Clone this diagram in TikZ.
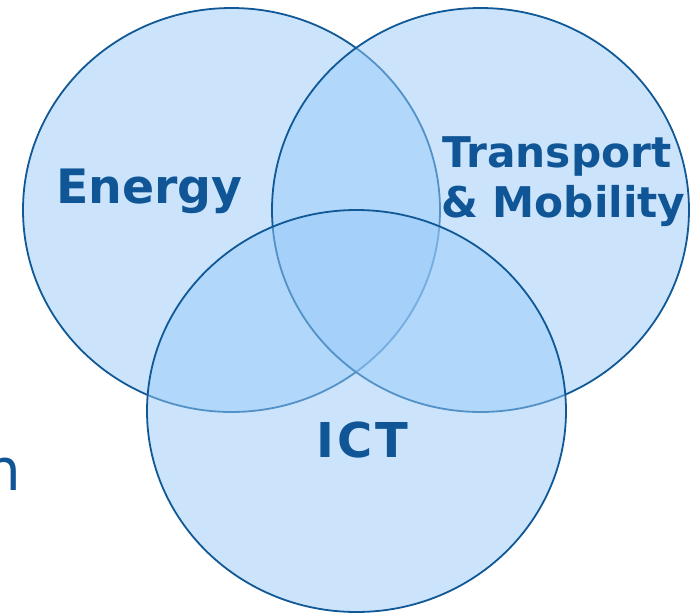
\documentclass[tikz,border=0pt]{standalone}
\usepackage{fontspec}
\setmainfont{DejaVu Sans}
\definecolor{vblue}{RGB}{151,202,249}
\definecolor{vline}{RGB}{16,88,150}
\definecolor{vtext}{RGB}{16,86,150}
\begin{document}
\begin{tikzpicture}[x=1pt,y=-1pt,
  setcircle/.style={draw=vline,line width=1.8pt,fill=vblue,fill opacity=0.5,draw opacity=1},
  lbl/.style={inner sep=0pt,text=vtext,anchor=base west}]
\useasboundingbox (0,0) rectangle (694,613);
\clip (0,0) rectangle (694,613);
\node[inner sep=0pt,anchor=base west,text=vtext,font=\fontsize{58}{60}\selectfont] (frag) at (-16,490) {n};
\draw[setcircle] (231.5,210) ellipse [x radius=208.5, y radius=202];
\draw[setcircle] (480.5,210) ellipse [x radius=208.5, y radius=202];
\draw[setcircle] (356.5,411) ellipse [x radius=209.5, y radius=201];
\node[lbl,font=\bfseries\fontsize{47.4}{50}\selectfont] (energy) at (56,203) {Energy};
\node[lbl,font=\bfseries\fontsize{42.3}{50}\selectfont] (transport) at (442,167) {Transport};
\node[lbl,font=\bfseries\fontsize{42.3}{50}\selectfont] (mobility) at (441,217) {\& Mobility};
\node[lbl,font=\bfseries\fontsize{48}{50}\selectfont] (ict) at (316,457) {I\kern3pt C\kern3pt T};
\end{tikzpicture}
\end{document}
